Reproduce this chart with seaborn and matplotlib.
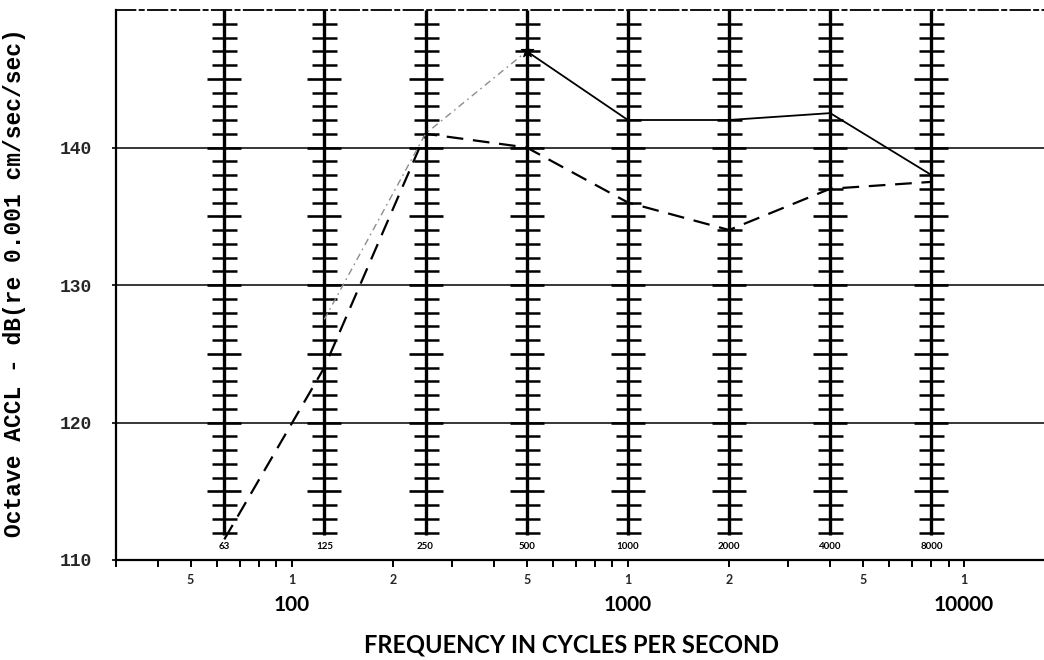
import numpy as np
import pandas as pd
import matplotlib
matplotlib.use("Agg")
import matplotlib.pyplot as plt
import matplotlib.transforms as mtransforms
from matplotlib.ticker import NullFormatter, FixedLocator, LogLocator
import seaborn as sns

# Octave band centre frequencies (Hz) and their printed labels
bands = [63, 125, 250, 500, 1000, 2000, 4000, 8000]
band_labels = ["63", "125", "250", "500", "1000", "2000", "4000", "8000"]

# Upper curve: faint dotted rise (125-500 Hz) then solid run (500-8000 Hz)
rise_bands = [125, 250, 500]
rise_db = [127.5, 141.0, 147.0]
upper_bands = [500, 1000, 2000, 4000, 8000]
upper_db = [147.0, 142.0, 142.0, 142.5, 138.0]

# Lower curve: dashed, all bands
lower_db = [111.5, 124.0, 141.0, 140.0, 136.0, 134.0, 137.0, 137.5]

# Axis annotation
axis_ticks = [50, 100, 200, 500, 1000, 2000, 5000, 10000]
axis_tick_labels = ["5", "1", "2", "5", "1", "2", "5", "1"]
decade_values = [100, 1000, 10000]
decade_labels = ["100", "1000", "10000"]
y_ticks = [110, 120, 130, 140]
y_grid = [120, 130, 140]

sns.set_style("ticks")
plt.rcParams["font.family"] = ["Lato", "DejaVu Sans"]
plt.rcParams["lines.scale_dashes"] = False

W, H = 1044, 660
fig = plt.figure(figsize=(W / 100, H / 100), dpi=100)
ax = fig.add_axes([116 / W, 100 / H, 928 / W, 550 / H])
ax.set_xscale("log")
ax.set_xlim(30, 17300)
ax.set_ylim(110, 150)

# frame
for side in ("left", "bottom", "top"):
    ax.spines[side].set_color("black")
ax.spines["left"].set_linewidth(1.6)
ax.spines["bottom"].set_linewidth(1.6)
ax.spines["top"].set_linewidth(1.3)
ax.spines["top"].set_linestyle((0, (14, 3, 3, 3)))
ax.spines["right"].set_visible(False)

# horizontal reference lines every 10 dB
for g in y_grid:
    ax.axhline(g, color="black", lw=1.1, zorder=1)

# octave-band scale columns with 1 dB ticks
for b in bands:
    ax.vlines(b, 111.8, 150, color="black", lw=2.4, zorder=2)
    ys = np.arange(112, 150)
    short = ys[ys % 5 != 0]
    long_ = ys[ys % 5 == 0]
    ax.plot(np.full(short.shape, b, dtype=float), short, ls="none", marker="_",
            ms=18, mew=1.8, color="black", zorder=2)
    ax.plot(np.full(long_.shape, b, dtype=float), long_, ls="none", marker="_",
            ms=25, mew=1.9, color="black", zorder=2)

for b, lbl in zip(bands, band_labels):
    ax.text(b, 111.0, lbl, ha="center", va="center", fontsize=7,
            fontweight="bold", color="black", zorder=3,
            bbox=dict(facecolor="white", edgecolor="none", pad=0.3))

# data curves
lower = pd.DataFrame({"freq": bands, "db": lower_db})
rise = pd.DataFrame({"freq": rise_bands, "db": rise_db})
upper = pd.DataFrame({"freq": upper_bands, "db": upper_db})

sns.lineplot(data=lower, x="freq", y="db", ax=ax, color="black", lw=1.6,
             estimator=None, sort=False, zorder=4)
ax.lines[-1].set_dashes([12, 7])

sns.lineplot(data=rise, x="freq", y="db", ax=ax, color="#8c8c8c", lw=1.0,
             estimator=None, sort=False, zorder=4)
ax.lines[-1].set_dashes([5, 3, 1.2, 3])

sns.lineplot(data=upper, x="freq", y="db", ax=ax, color="black", lw=1.3,
             estimator=None, sort=False, zorder=4)

sns.scatterplot(x=upper_bands[:1], y=upper_db[:1], ax=ax, marker="*", s=90,
                color="black", edgecolor="black", zorder=5)

# x axis: log ticks with single digit labels
ax.xaxis.set_major_locator(FixedLocator(axis_ticks))
ax.set_xticklabels(axis_tick_labels)
ax.xaxis.set_minor_locator(LogLocator(base=10, subs=np.arange(2, 10)))
ax.xaxis.set_minor_formatter(NullFormatter())
ax.tick_params(axis="x", which="both", direction="out", length=5, width=1.4,
               color="black", labelsize=9, pad=5)
for t in ax.get_xticklabels():
    t.set_fontweight("bold")

trans = mtransforms.blended_transform_factory(ax.transData, ax.transAxes)
for v, lbl in zip(decade_values, decade_labels):
    ax.text(v, -0.082, lbl, transform=trans, ha="center", va="center",
            fontsize=15, fontweight="bold", color="black")

ax.set_xlabel("FREQUENCY IN CYCLES PER SECOND", fontsize=17,
              fontweight="bold", color="black")
ax.xaxis.set_label_coords(0.491, -0.155)
ax.xaxis.label.set_va("center")

# y axis
ax.set_yticks(y_ticks)
ax.set_yticklabels([str(v) for v in y_ticks])
ax.tick_params(axis="y", direction="out", length=3, width=1.2, color="black",
               pad=14, labelsize=13)
for t in ax.get_yticklabels():
    t.set_fontfamily("Liberation Mono")
    t.set_fontweight("bold")

ax.set_ylabel("Octave ACCL - dB(re 0.001 cm/sec/sec)", fontsize=16.5,
              fontfamily="Liberation Mono", fontweight="bold", color="black")
ax.yaxis.set_label_coords(-0.109, 0.504)
ax.yaxis.label.set_va("center")

ax.set_facecolor("white")
fig.patch.set_facecolor("white")
fig.savefig("out.png", dpi=100, facecolor="white")
